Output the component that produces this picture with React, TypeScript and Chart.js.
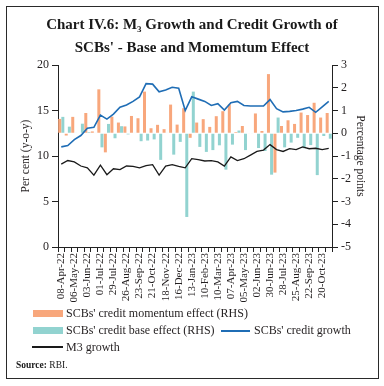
import React, { useEffect, useRef } from "react";
import { Chart, registerables } from "chart.js";

Chart.register(...registerables);

const dates = [
  "08-Apr-22", "22-Apr-22", "06-May-22", "20-May-22", "03-Jun-22", "17-Jun-22",
  "01-Jul-22", "15-Jul-22", "29-Jul-22", "12-Aug-22", "26-Aug-22", "09-Sep-22",
  "23-Sep-22", "07-Oct-22", "21-Oct-22", "04-Nov-22", "18-Nov-22", "02-Dec-22",
  "16-Dec-22", "30-Dec-22", "13-Jan-23", "27-Jan-23", "10-Feb-23", "24-Feb-23",
  "10-Mar-23", "24-Mar-23", "07-Apr-23", "21-Apr-23", "05-May-23", "19-May-23",
  "02-Jun-23", "16-Jun-23", "30-Jun-23", "14-Jul-23", "28-Jul-23", "11-Aug-23",
  "25-Aug-23", "08-Sep-23", "22-Sep-23", "06-Oct-23", "20-Oct-23", "03-Nov-23",
];

const momentumEffect = [
  0.63, -0.1, 0.72, 0.0, 0.89, 0.08, 1.93, -0.84, 0.73, 0.47, 0.3, 0.76,
  0.66, 1.83, 0.22, 0.37, 0.18, 1.26, 0.38, 1.1, -0.2, 0.47, 0.62, 0.28,
  0.75, 0.97, 1.27, 0.05, 0.32, -0.02, 0.87, 0.1, 2.6, -1.73, 0.32, 0.57,
  0.41, 0.91, 0.8, 1.34, 0.69, 0.89,
];

const baseEffect = [
  0.72, 0.29, 0.02, 0.42, 0.05, 0.02, -0.62, 0.41, -0.22, 0.31, -0.05, 0.02,
  -0.35, -0.32, -0.27, -1.17, 0.02, -0.94, -0.38, -3.68, 1.83, -0.6, -0.82, -0.74,
  -0.53, -1.6, -0.5, 0.12, -0.74, -0.02, -0.65, -0.78, -1.82, 0.69, -0.62, -0.41,
  -0.2, -0.66, -0.52, -1.84, -0.12, -0.24,
];

const creditGrowth = [
  11.0, 11.15, 11.8, 12.25, 13.05, 13.15, 14.5, 14.05, 14.6, 15.35, 15.6, 16.0,
  16.5, 17.95, 17.9, 17.05, 17.25, 17.55, 17.45, 15.0, 16.5, 16.25, 16.0, 15.55,
  15.75, 15.05, 15.85, 16.0, 15.55, 15.5, 15.5, 15.5, 16.2, 15.2, 14.85, 14.9,
  15.0, 15.15, 15.35, 14.8, 15.4, 16.0,
];

const m3Growth = [
  9.1, 9.5, 9.35, 8.9, 8.7, 7.9, 9.0, 7.95, 8.6, 8.5, 8.9, 8.85,
  8.7, 8.95, 9.05, 7.9, 8.9, 9.05, 8.85, 8.7, 9.7, 9.6, 9.45, 9.5,
  9.35, 8.9, 9.9, 9.5, 9.7, 10.1, 10.5, 10.65, 11.25, 10.7, 10.5, 10.8,
  10.7, 11.0, 10.8, 10.85, 10.7, 10.85,
];

const leftAxis = { min: 0, max: 20, step: 5 };
const rightAxis = { min: -5, max: 3, step: 1 };

const SERIF = "'Liberation Serif', 'Times New Roman', serif";
const TEXT = "#231f20";
const ORANGE = "#f8a77c";
const TEAL = "#92d3d0";
const BLUE = "#1f6db5";
const BLACK = "#1a1a1a";

export default function App() {
  const canvasRef = useRef<HTMLCanvasElement | null>(null);

  useEffect(() => {
    if (!canvasRef.current) return;
    const chart = new Chart(canvasRef.current, {
      type: "bar",
      data: {
        labels: dates,
        datasets: [
          {
            type: "line",
            label: "SCBs' credit growth",
            data: creditGrowth,
            yAxisID: "y",
            borderColor: BLUE,
            borderWidth: 1.6,
            pointRadius: 0,
            tension: 0,
            order: 0,
          } as any,
          {
            type: "line",
            label: "M3 growth",
            data: m3Growth,
            yAxisID: "y",
            borderColor: BLACK,
            borderWidth: 1.3,
            pointRadius: 0,
            tension: 0,
            order: 0,
          } as any,
          {
            type: "bar",
            label: "SCBs' credit momentum effect (RHS)",
            data: momentumEffect,
            yAxisID: "y1",
            backgroundColor: ORANGE,
            categoryPercentage: 0.96,
            barPercentage: 0.96,
            order: 1,
          },
          {
            type: "bar",
            label: "SCBs' credit base effect (RHS)",
            data: baseEffect,
            yAxisID: "y1",
            backgroundColor: TEAL,
            categoryPercentage: 0.96,
            barPercentage: 0.96,
            order: 1,
          },
        ],
      },
      options: {
        animation: false,
        responsive: false,
        maintainAspectRatio: false,
        layout: { padding: { top: 65, left: 14, right: 13, bottom: 79 } },
        plugins: {
          legend: { display: false },
          title: { display: false },
          tooltip: { enabled: false },
        },
        scales: {
          x: {
            grid: {
              display: true,
              drawOnChartArea: false,
              drawTicks: true,
              tickLength: 5,
              color: "#222",
              offset: true,
            },
            border: { display: true, color: "#222", width: 1 },
            ticks: {
              autoSkip: false,
              minRotation: 90,
              maxRotation: 90,
              padding: 1,
              color: TEXT,
              font: { family: SERIF, size: 11 },
              callback: (_v: any, i: number) => (i % 2 === 0 ? dates[i] : ""),
            },
            afterFit: (s: any) => {
              s.height = 60;
            },
          },
          y: {
            position: "left",
            min: leftAxis.min,
            max: leftAxis.max,
            grid: {
              drawOnChartArea: false,
              drawTicks: true,
              tickLength: 6,
              color: "#222",
            },
            border: { display: true, color: "#222", width: 1 },
            ticks: {
              stepSize: leftAxis.step,
              padding: 3,
              color: TEXT,
              font: { family: SERIF, size: 12 },
            },
            title: {
              display: true,
              text: "Per cent (y-o-y)",
              color: TEXT,
              font: { family: SERIF, size: 11.5 },
              padding: { top: 5, bottom: 4 },
            },
            afterFit: (s: any) => {
              s.width = 44;
            },
          },
          y1: {
            position: "right",
            min: rightAxis.min,
            max: rightAxis.max,
            grid: {
              drawOnChartArea: false,
              drawTicks: true,
              tickLength: 6,
              color: "#222",
            },
            border: { display: true, color: "#222", width: 1 },
            ticks: {
              stepSize: rightAxis.step,
              padding: 3,
              color: TEXT,
              font: { family: SERIF, size: 12 },
            },
            title: {
              display: true,
              text: "Percentage points",
              color: TEXT,
              font: { family: SERIF, size: 11.5 },
              padding: { top: 4, bottom: 4 },
            },
            afterFit: (s: any) => {
              s.width = 39;
            },
          },
        },
      } as any,
    });
    return () => chart.destroy();
  }, []);

  const legendText: React.CSSProperties = {
    position: "absolute",
    fontFamily: SERIF,
    fontSize: 12,
    color: TEXT,
    lineHeight: "14px",
    whiteSpace: "nowrap",
  };

  return (
    <div
      style={{
        position: "absolute",
        left: 0,
        top: 0,
        width: 384,
        height: 386,
        background: "#fff",
        overflow: "hidden",
      }}
    >
      <canvas
        ref={canvasRef}
        width={384}
        height={386}
        style={{ position: "absolute", left: 0, top: 0, display: "block" }}
      />
      <div
        style={{
          position: "absolute",
          left: 6,
          top: 6,
          width: 371,
          height: 371,
          border: "1.5px solid #2a2a2a",
          pointerEvents: "none",
        }}
      />
      <div
        style={{
          position: "absolute",
          left: 0,
          top: 15,
          width: 384,
          textAlign: "center",
          fontFamily: SERIF,
          fontWeight: "bold",
          fontSize: 15,
          lineHeight: "18px",
          color: "#1a1a1a",
        }}
      >
        <div>
          Chart IV.6: M<sub style={{ fontSize: 9, verticalAlign: "-3px" }}>3</sub> Growth and Credit Growth of
        </div>
        <div>SCBs' - Base and Momemtum Effect</div>
      </div>

      {/* Legend row 1 */}
      <div style={{ position: "absolute", left: 33, top: 310, width: 30, height: 7, background: ORANGE }} />
      <div style={{ ...legendText, left: 66, top: 306 }}>SCBs' credit momentum effect (RHS)</div>

      {/* Legend row 2 */}
      <div style={{ position: "absolute", left: 33, top: 327, width: 30, height: 7, background: TEAL }} />
      <div style={{ ...legendText, left: 66, top: 323 }}>SCBs' credit base effect (RHS)</div>
      <div style={{ position: "absolute", left: 221, top: 330, width: 29, height: 2, background: BLUE }} />
      <div style={{ ...legendText, left: 254, top: 323 }}>SCBs' credit growth</div>

      {/* Legend row 3 */}
      <div style={{ position: "absolute", left: 32, top: 346, width: 31, height: 2, background: BLACK }} />
      <div style={{ ...legendText, left: 66, top: 340 }}>M3 growth</div>

      <div
        style={{
          position: "absolute",
          left: 16,
          top: 360,
          fontFamily: SERIF,
          fontSize: 9.5,
          fontWeight: "bold",
          color: "#1a1a1a",
          whiteSpace: "nowrap",
        }}
      >
        Source: <span style={{ fontWeight: "normal" }}>RBI.</span>
      </div>
    </div>
  );
}
